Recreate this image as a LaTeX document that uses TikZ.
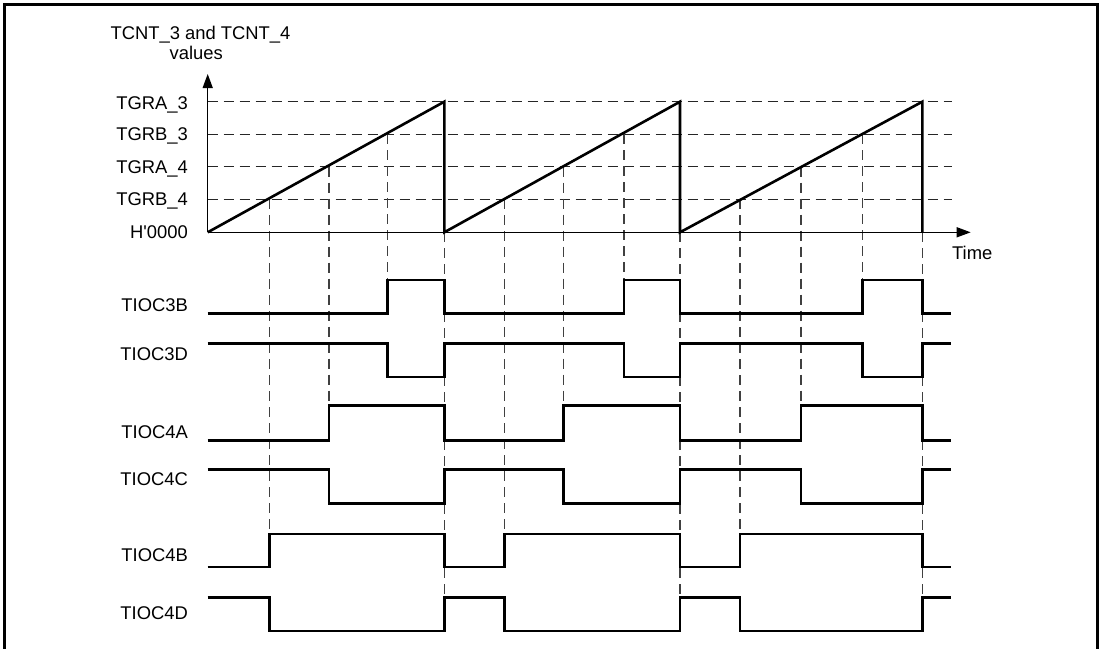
\documentclass[tikz,border=0pt]{standalone}
\usepackage{fontspec}
\setmainfont{Liberation Sans}
\usetikzlibrary{arrows.meta}

\begin{document}
\begin{tikzpicture}[x=0.5pt, y=-0.5pt,
  txt/.style={font=\fontsize{9.2}{11}\selectfont, inner sep=0pt},
  lbl/.style={txt, anchor=base east},
  lvl/.style={dash pattern=on 5pt off 3pt, line width=0.6pt, black!85},
  guide/.style={dash pattern=on 5pt off 3pt, line width=0.6pt, black!75},
  axis/.style={line width=0.7pt, -{Triangle[length=7pt, width=5pt]}},
  wave/.style={line width=1.3pt, line join=miter}]
  \useasboundingbox (0,0) rectangle (1102,648);
  \draw[line width=1.5pt] (4.5,4.5) rectangle (1097.5,660);

  % counter axis and compare levels
  \coordinate (org) at (207.7,232.3);
  \coordinate (ytip) at (207.7,74);
  \coordinate (xtip) at (970.7,232.3);
  \node[txt, anchor=base] (cnt) at (200.5,39.3) {TCNT\_3 and TCNT\_4};
  \node[txt, anchor=base] (cntunit) at (196.3,59.3) {values};
  \node[lbl] (gra3) at (188.3,109) {TGRA\_3};
  \node[lbl] (grb3) at (188.3,140.8) {TGRB\_3};
  \node[lbl] (gra4) at (188.3,173.2) {TGRA\_4};
  \node[lbl] (grb4) at (188.3,205.8) {TGRB\_4};
  \node[lbl] (zero) at (188.3,238.8) {H\textquotesingle 0000};
  \node[txt, anchor=base west] (time) at (951.7,259.3) {Time};
  \foreach \y in {101.7,134.3,166.7,199.3}
    \draw[lvl] (207.7,\y) -- (951.7,\y);

  % dashed guides from the compare matches
  \foreach \x in {269.3,504.3,740}
    \draw[guide] (\x,199.3) -- (\x,534);
  \foreach \x in {329,563.3,801}
    \draw[guide] (\x,166.7) -- (\x,405.7);
  \foreach \x in {387.7,624,862.7}
    \draw[guide] (\x,134.3) -- (\x,280);
  \foreach \x in {444.3,680,922.3}
    \draw[guide] (\x,232.3) -- (\x,597.3);

  \draw[axis] (org) -- (ytip);
  \draw[axis] (org) -- (xtip);
  \draw[wave] (org) -- (444.3,101.7) -- (444.3,232.3) -- (680,101.7)
    -- (680,232.3) -- (922.3,101.7) -- (922.3,232.3);

  % output waveforms
  \node[lbl] (s3b) at (188.3,311.7) {TIOC3B};
  \node[lbl] (s3d) at (188.3,360.7) {TIOC3D};
  \node[lbl] (s4a) at (188.3,438.3) {TIOC4A};
  \node[lbl] (s4c) at (188.3,485) {TIOC4C};
  \node[lbl] (s4b) at (188.3,561.7) {TIOC4B};
  \node[lbl] (s4d) at (188.3,619) {TIOC4D};
  \draw[wave] (207.7,313.3) -| (387.7,280) -| (444.3,313.3) -| (624,280)
    -| (680,313.3) -| (862.7,280) -| (922.3,313.3) -- (950.7,313.3);
  \draw[wave] (207.7,343.7) -| (387.7,377) -| (444.3,343.7) -| (624,377)
    -| (680,343.7) -| (862.7,377) -| (922.3,343.7) -- (950.7,343.7);
  \draw[wave] (207.7,440.7) -| (329,405.7) -| (444.3,440.7) -| (563.3,405.7)
    -| (680,440.7) -| (801,405.7) -| (922.3,440.7) -- (950.7,440.7);
  \draw[wave] (207.7,469.3) -| (329,503.3) -| (444.3,469.3) -| (563.3,503.3)
    -| (680,469.3) -| (801,503.3) -| (922.3,469.3) -- (950.7,469.3);
  \draw[wave] (207.7,567) -| (269.3,534) -| (444.3,567) -| (504.3,534)
    -| (680,567) -| (740,534) -| (922.3,567) -- (950.7,567);
  \draw[wave] (207.7,597.3) -| (269.3,631) -| (444.3,597.3) -| (504.3,631)
    -| (680,597.3) -| (740,631) -| (922.3,597.3) -- (950.7,597.3);
\end{tikzpicture}
\end{document}
